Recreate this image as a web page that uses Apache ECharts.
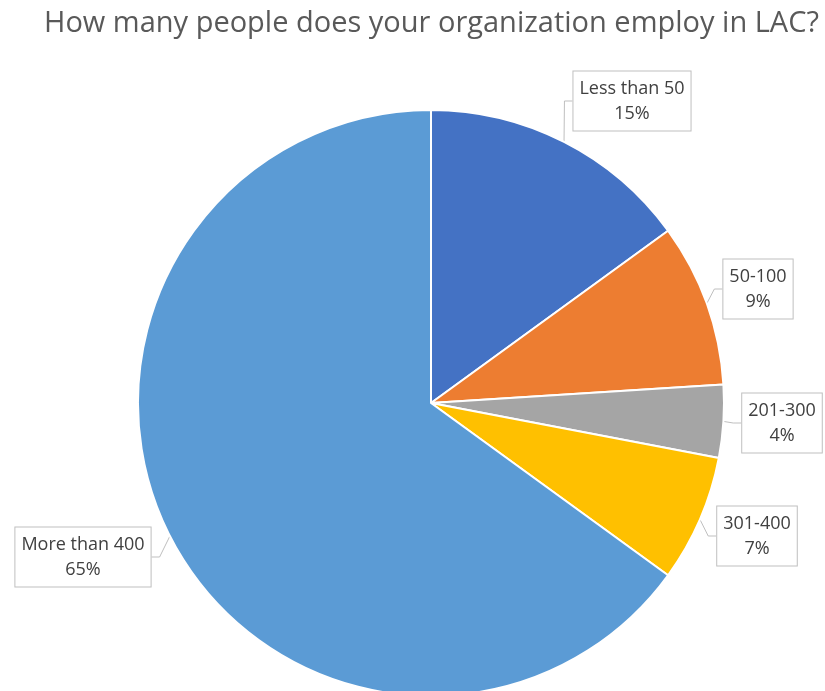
<!DOCTYPE html>
<html>
<head>
<meta charset="utf-8">
<script src="https://cdn.jsdelivr.net/npm/echarts@6/dist/echarts.min.js"></script>
<style>
  html, body { margin: 0; padding: 0; background: #fff; }
  #chart { width: 825px; height: 691px; }
</style>
</head>
<body>
<div id="chart"></div>
<script>
// Survey answers: organisation headcount in LAC
const categories = ['Less than 50', '50-100', '201-300', '301-400', 'More than 400'];
const shares = [15, 9, 4, 7, 65];
const sliceColors = ['#4472C4', '#ED7D31', '#A5A5A5', '#FFC000', '#5B9BD5'];

// Where each callout box sits (box centre, px)
const calloutCentres = [[632, 101], [758, 289], [782, 423], [757, 536], [83, 557]];

const chart = echarts.init(document.getElementById('chart'));
const FONT = '"Open Sans", "Liberation Sans", sans-serif';

chart.setOption({
  backgroundColor: '#ffffff',
  animation: false,
  title: {
    text: 'How many people does your organization employ in LAC?',
    left: 39,
    top: 4,
    textStyle: { fontFamily: FONT, fontSize: 29, fontWeight: 'normal', color: '#595959' }
  },
  series: [{
    type: 'pie',
    center: [431, 403],
    radius: [0, 293],
    startAngle: 90,
    clockwise: true,
    avoidLabelOverlap: false,
    itemStyle: { borderColor: '#ffffff', borderWidth: 2 },
    data: categories.map((name, i) => ({
      name,
      value: shares[i],
      itemStyle: { color: sliceColors[i] }
    })),
    label: {
      show: true,
      position: 'outside',
      formatter: p => p.name + '\n' + p.value + '%',
      fontFamily: FONT,
      fontSize: 18,
      lineHeight: 25,
      color: '#404040',
      align: 'center',
      backgroundColor: '#ffffff',
      borderColor: '#bfbfbf',
      borderWidth: 1,
      padding: [5, 6, 4, 6]
    },
    labelLine: {
      show: true,
      length: 8,
      length2: 8,
      lineStyle: { color: '#bfbfbf', width: 1 }
    },
    labelLayout: p => {
      const c = calloutCentres[p.dataIndex];
      return { x: c[0], y: c[1], align: 'center', verticalAlign: 'middle' };
    }
  }]
});
</script>
</body>
</html>
